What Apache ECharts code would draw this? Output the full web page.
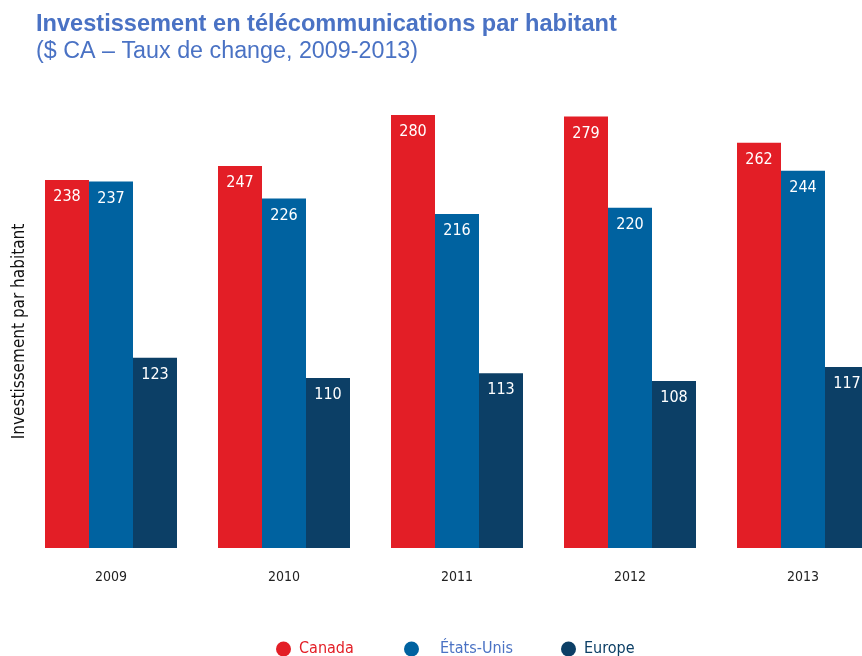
<!DOCTYPE html>
<html><head><meta charset="utf-8">
<script src="https://cdn.jsdelivr.net/npm/echarts@6/dist/echarts.min.js"></script>
<style>html,body{margin:0;padding:0;background:#fff}#c{width:862px;height:656px}</style>
</head><body><div id="c"></div>
<script>
const years = ['2009','2010','2011','2012','2013'];
const canada = [238,247,280,279,262];
const etatsUnis = [237,226,216,220,244];
const europe = [123,110,113,108,117];
const seriesNames = ['Canada','États-Unis','Europe'];
const colors = ['#e31e26','#0062a0','#0c3f66'];
const legendTextColors = ['#e31e26','#4a72c4','#0c3f66'];
const legendLeft = [271, 399, 556];
const legendTextGap = [8, 21, 8];

const chart = echarts.init(document.getElementById('c'));
const lbl = {show:true, position:'insideTop', distance:9, color:'#fff', fontSize:16, fontFamily:'DejaVu Sans Condensed'};
chart.setOption({
  animation:false,
  title:{
    text:'Investissement en télécommunications par habitant',
    subtext:'($ CA – Taux de change, 2009-2013)',
    left:31, top:7, itemGap:4,
    textStyle:{color:'#4a72c4', fontSize:23.6, fontWeight:'bold', fontFamily:'Liberation Sans'},
    subtextStyle:{color:'#4a72c4', fontSize:23.3, fontFamily:'Liberation Sans'}
  },
  legend: seriesNames.map((n,i)=>({
    top:636, left:legendLeft[i], icon:'circle', itemWidth:15, itemHeight:15,
    textStyle:{fontSize:16, fontFamily:'DejaVu Sans Condensed', color:legendTextColors[i], padding:[0,0,0,legendTextGap[i]-5]},
    data:[n]
  })),
  grid:{left:24.5, width:865, top:115, bottom:108, containLabel:false, outerBoundsMode:'none'},
  xAxis:{
    type:'category', data:years,
    axisLine:{show:false}, axisTick:{show:false},
    axisLabel:{color:'#222', fontSize:14, margin:22, fontFamily:'DejaVu Sans Condensed'}
  },
  yAxis:{
    type:'value', min:0, max:280,
    name:'Investissement par habitant', nameLocation:'middle', nameGap:-4,
    nameTextStyle:{color:'#111', fontSize:17, fontFamily:'DejaVu Sans Condensed'},
    axisLabel:{show:false}, axisLine:{show:false}, axisTick:{show:false}, splitLine:{show:false}
  },
  series:[
    {name:seriesNames[0], type:'bar', data:canada, barWidth:44, barGap:'0%', itemStyle:{color:colors[0]}, label:lbl},
    {name:seriesNames[1], type:'bar', data:etatsUnis, barWidth:44, barGap:'0%', itemStyle:{color:colors[1]}, label:lbl},
    {name:seriesNames[2], type:'bar', data:europe, barWidth:44, barGap:'0%', itemStyle:{color:colors[2]}, label:lbl}
  ]
});
</script></body></html>
